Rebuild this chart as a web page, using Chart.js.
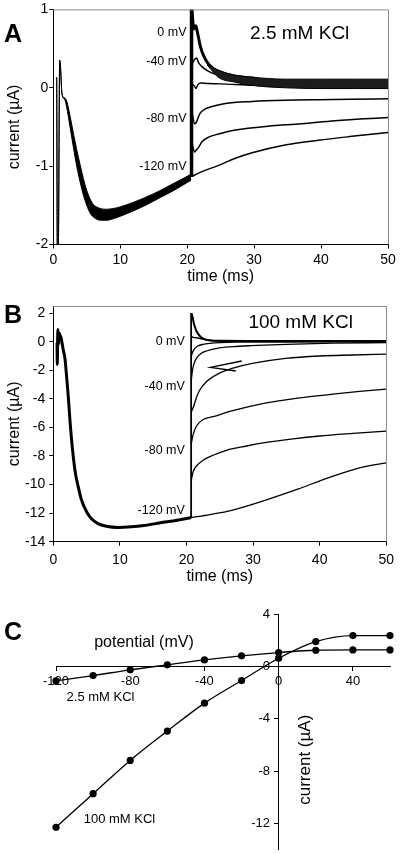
<!DOCTYPE html>
<html>
<head>
<meta charset="utf-8">
<script src="https://cdn.jsdelivr.net/npm/chart.js@4.4.0/dist/chart.umd.min.js"></script>
<style>
  body { margin: 0; background: #fff; width: 400px; height: 854px; overflow: hidden; font-family: "Liberation Sans", Arial, sans-serif; }
  .panel { position: absolute; left: 0; width: 400px; }
  #boxA { top: 0; height: 290px; }
  #boxB { top: 290px; height: 300px; }
  #boxC { top: 590px; height: 264px; }
  .letter { position: absolute; left: 4px; font-size: 25px; line-height: 25px; font-weight: bold; color: #000; }
</style>
</head>
<body>
<div class="panel" id="boxA"><canvas id="chartA"></canvas></div>
<div class="panel" id="boxB"><canvas id="chartB"></canvas></div>
<div class="panel" id="boxC"><canvas id="chartC"></canvas></div>
<div class="letter" style="top:21px">A</div>
<div class="letter" style="top:302px">B</div>
<div class="letter" style="top:619px">C</div>
<script>
// ---------- panel A: 2.5 mM KCl (time in ms, current in µA)
const timeTicks = [0, 10, 20, 30, 40, 50];
const currentTicksA = [-2, -1, 0, 1];

// prepulse, drawn as a band between an upper and a lower edge
const tPreA = [0.45, 0.5, 0.6, 0.75, 0.95, 1.05, 1.3, 1.7, 2.0, 2.5, 3.0, 3.5, 4.0, 4.5, 5.0, 5.5, 6.0, 7.0, 8.0, 9.0, 10, 12, 14, 16, 18, 20, 20.6];
const iPreAHigh = [0.12, 0.13, -2.05, -2.05, 0.35, 0.3, -0.08, -0.13, -0.17, -0.36, -0.58, -0.79, -0.98, -1.16, -1.31, -1.42, -1.49, -1.54, -1.55, -1.54, -1.52, -1.46, -1.39, -1.31, -1.22, -1.13, -1.1];
const iPreALow = [0.12, 0.13, -2.05, -2.05, 0.35, 0.3, -0.08, -0.15, -0.25, -0.5, -0.76, -1.0, -1.2, -1.37, -1.5, -1.6, -1.65, -1.69, -1.69, -1.67, -1.64, -1.57, -1.49, -1.4, -1.31, -1.21, -1.18];

// voltage step at ~20.6 ms
const tStepA = [20.65, 20.65];
const iStepA = [-1.14, 1.05];

// test pulses
const tA0 = [20.7, 21.0, 21.3, 21.5, 22.0, 22.5, 23.2, 24.0, 25.0, 27.0, 30.0];
const iA0 = [1.0, 0.75, 0.79, 0.72, 0.52, 0.4, 0.3, 0.24, 0.2, 0.15, 0.12];
const tA40 = [20.7, 21.1, 21.4, 21.7, 22.2, 23.2, 24.7, 27.0, 30.0];
const iA40 = [0.3, 0.36, 0.38, 0.32, 0.27, 0.21, 0.16, 0.12, 0.1];
const tA60 = [20.7, 21.1, 21.3, 21.6, 22.0, 23.0, 25.0, 30.0, 40.0, 50.0];
const iA60 = [0.05, 0.02, -0.01, 0.04, 0.06, 0.055, 0.05, 0.03, 0.02, 0.01];
const tA80 = [20.7, 21.1, 21.3, 21.9, 22.7, 23.7, 25.7, 29.7, 34.6, 39.6, 44.6, 50];
const iA80 = [-0.3, -0.46, -0.45, -0.33, -0.27, -0.24, -0.2, -0.175, -0.16, -0.153, -0.148, -0.14];
const tA100 = [20.7, 21.1, 21.3, 21.7, 22.2, 23.2, 24.7, 27.2, 32.1, 37.1, 42.1, 50];
const iA100 = [-0.7, -0.82, -0.8, -0.76, -0.69, -0.63, -0.59, -0.54, -0.49, -0.46, -0.42, -0.38];
const tA120 = [20.7, 22.2, 24.7, 27.2, 29.7, 34.6, 39.6, 44.6, 50];
const iA120 = [-1.13, -1.07, -0.99, -0.9, -0.83, -0.73, -0.67, -0.62, -0.57];

// noisy band of the depolarized traces near zero
const tBandA = [23.0, 24.0, 24.7, 27.2, 29.7, 34.6, 40, 45, 50];
const iBandAHigh = [0.3, 0.25, 0.22, 0.16, 0.135, 0.11, 0.11, 0.11, 0.11];
const iBandALow = [0.29, 0.19, 0.13, 0.07, 0.03, 0.0, -0.01, -0.01, -0.01];

// ---------- panel B: 100 mM KCl
const currentTicksB = [-14, -12, -10, -8, -6, -4, -2, 0, 2];

const tPreB = [0.45, 0.55, 0.6, 0.68, 0.78, 0.9, 1.0, 1.15, 1.5, 1.75, 2.0, 2.25, 2.5, 2.75, 3.25, 3.75, 4.25, 5.0, 5.7, 6.7, 8.0, 9.7, 11.7, 13.6, 16.1, 18.6, 20.7];
const iPreB = [0.0, 0.0, -1.6, 0.85, -0.2, 0.6, 0.45, 0.3, -0.58, -1.17, -2.45, -3.85, -5.49, -6.89, -9.0, -10.16, -11.1, -11.9, -12.38, -12.73, -12.92, -13.0, -12.96, -12.87, -12.68, -12.5, -12.31];

const tStepB = [20.7, 20.7];
const iStepB = [-12.31, 2.0];

const tBpos = [20.7, 20.85, 21.1, 21.5, 22.0, 22.6, 23.5, 25, 30, 40, 50];
const iBpos = [2.0, 1.87, 1.3, 0.75, 0.4, 0.2, 0.1, 0.06, 0.05, 0.05, 0.05];
const tB0 = [20.7, 21.0, 21.5, 22.2, 23, 24.5, 27, 35, 50];
const iB0 = [0.4, 0.3, 0.28, 0.2, 0.12, 0.06, 0.03, 0.02, 0.02];
const tB20 = [20.7, 20.9, 21.2, 21.7, 22.5, 23.5, 25, 28, 33, 40, 50];
const iB20 = [-1.07, -0.75, -0.5, -0.3, -0.18, -0.11, -0.06, -0.03, -0.02, -0.01, 0.0];
const tB40 = [20.7, 20.9, 21.2, 21.6, 22.0, 23.0, 24.6, 27, 29.6, 35, 42, 50];
const iB40 = [-2.8, -2.0, -1.45, -1.1, -0.89, -0.65, -0.46, -0.35, -0.28, -0.18, -0.1, -0.06];
const tB60 = [20.7, 21.1, 21.5, 22.0, 23.0, 24.9, 27, 29.9, 34.9, 40, 45, 50];
const iB60 = [-4.94, -4.5, -3.9, -3.38, -2.8, -2.22, -1.85, -1.52, -1.17, -1.0, -0.93, -0.87];
const tB80 = [20.7, 21.0, 21.5, 22.5, 24, 26.8, 31.8, 36.7, 41.7, 46, 50];
const iB80 = [-7.18, -6.5, -5.9, -5.45, -5.25, -4.85, -4.3, -3.95, -3.69, -3.48, -3.32];
const tB100 = [20.7, 21.0, 21.5, 22.5, 24, 26, 29, 32, 36, 40, 45, 50];
const iB100 = [-9.73, -9.1, -8.7, -8.3, -7.95, -7.6, -7.3, -7.05, -6.8, -6.6, -6.42, -6.26];
const tB120 = [20.7, 23.5, 26.8, 31.8, 36.7, 41.7, 46.6, 50];
const iB120 = [-12.31, -12.1, -11.8, -11.1, -10.32, -9.46, -8.76, -8.48];

// arrow pointing at a tail current
const tArrowB = [28.3, 23.6, 27.4];
const iArrowB = [-1.35, -1.8, -2.05];

// ---------- panel C: current–voltage relation
const potentials = [-120, -100, -80, -60, -40, -20, 0, 20, 40, 60];
const ivLowK = [-1.1, -0.69, -0.25, 0.13, 0.51, 0.82, 1.07, 1.25, 1.27, 1.27];
const ivHighK = [-12.3, -9.73, -7.18, -4.94, -2.8, -1.07, 0.64, 1.91, 2.37, 2.37];
const potentialTicks = [-120, -80, -40, 0, 40];
const currentTicksC = [-12, -8, -4, 0, 4];

const FONT = '"Liberation Sans", Arial, sans-serif';
Chart.defaults.font.family = FONT;
Chart.defaults.color = '#000';

// text written at data coordinates
const notesPlugin = {
    id: 'notes',
    afterDatasetsDraw(chart, args, opts) {
        const { ctx, scales } = chart;
        (opts.items || []).forEach(n => {
            ctx.save();
            ctx.font = n.size + 'px ' + FONT;
            ctx.fillStyle = '#000';
            ctx.textAlign = n.align || 'left';
            ctx.textBaseline = 'middle';
            ctx.translate(scales.x.getPixelForValue(n.x), scales.y.getPixelForValue(n.y));
            if (n.rotate) ctx.rotate(n.rotate);
            ctx.fillText(n.text, 0, 0);
            ctx.restore();
        });
    }
};

// grey top/right frame of the trace plots
const framePlugin = {
    id: 'frame',
    afterDraw(chart, args, opts) {
        if (!opts.show) return;
        const { ctx, chartArea: a } = chart;
        ctx.save();
        ctx.strokeStyle = '#8c8c8c';
        ctx.lineWidth = 1;
        ctx.beginPath();
        ctx.moveTo(a.left, a.top + 0.5);
        ctx.lineTo(Math.round(a.right) + 0.5, a.top + 0.5);
        ctx.lineTo(Math.round(a.right) + 0.5, a.bottom);
        ctx.stroke();
        ctx.restore();
    }
};
Chart.register(notesPlugin, framePlugin);

function trace(ts, vs, width, extra) {
    return Object.assign({
        data: ts.map((t, i) => ({ x: t, y: vs[i] })),
        borderColor: '#000',
        backgroundColor: '#000',
        borderWidth: width,
        pointRadius: 0,
        fill: false,
        cubicInterpolationMode: 'monotone'
    }, extra || {});
}

function straight(ts, vs, width) {
    return trace(ts, vs, width, { cubicInterpolationMode: 'default', tension: 0 });
}

function tickSetter(list) {
    return scale => { scale.ticks = list.map(v => ({ value: v })); };
}

function traceOptions(cfg) {
    return {
        responsive: true,
        maintainAspectRatio: false,
        animation: false,
        events: [],
        layout: { padding: { top: cfg.top, right: 12, left: 0, bottom: 0 } },
        plugins: {
            legend: { display: false },
            tooltip: { enabled: false },
            notes: { items: cfg.notes },
            frame: { show: true }
        },
        scales: {
            x: {
                type: 'linear',
                min: 0,
                max: 50,
                afterFit: s => { s.height = cfg.xHeight; },
                afterBuildTicks: tickSetter(timeTicks),
                grid: { drawOnChartArea: false, tickLength: 4, color: '#000' },
                border: { color: '#000' },
                ticks: { padding: cfg.xPad, font: { size: 14 }, color: '#000' },
                title: { display: true, text: 'time (ms)', color: '#000', font: { size: 16 }, padding: { top: 0, bottom: 3.4 } }
            },
            y: {
                type: 'linear',
                min: cfg.yMin,
                max: cfg.yMax,
                afterFit: s => { s.width = 53.3; },
                afterBuildTicks: tickSetter(cfg.yTicks),
                grid: { drawOnChartArea: false, tickLength: 4, color: '#000' },
                border: { color: '#000' },
                ticks: { padding: cfg.yPad, font: { size: 14 }, color: '#000' },
                title: { display: true, text: 'current (µA)', color: '#000', font: { size: 16 }, padding: { top: 5.4, bottom: 0 } }
            }
        }
    };
}

// Panel A
new Chart(document.getElementById('chartA'), {
    type: 'line',
    data: {
        datasets: [
            trace(tPreA, iPreAHigh, 1),
            trace(tPreA, iPreALow, 1, { fill: '-1' }),
            trace(tBandA, iBandAHigh, 1),
            trace(tBandA, iBandALow, 1, { fill: '-1', backgroundColor: '#1c1c1c' }),
            trace(tA0, iA0, 3),
            trace(tA40, iA40, 1.5),
            trace(tA60, iA60, 1.4),
            trace(tA80, iA80, 1.5),
            trace(tA100, iA100, 1.5),
            trace(tA120, iA120, 1.5),
            straight(tStepA, iStepA, 3.5)
        ]
    },
    options: traceOptions({
        top: 8.5, xHeight: 45.5, xPad: 3, yPad: 1,
        yMin: -2, yMax: 1, yTicks: currentTicksA,
        notes: [
            { x: 19.9, y: 0.7, text: '0 mV', size: 12.5, align: 'right' },
            { x: 19.9, y: 0.33, text: '-40 mV', size: 12.5, align: 'right' },
            { x: 19.9, y: -0.39, text: '-80 mV', size: 12.5, align: 'right' },
            { x: 19.9, y: -1.01, text: '-120 mV', size: 12.5, align: 'right' },
            { x: 29.4, y: 0.69, text: '2.5 mM KCl', size: 19, align: 'left' }
        ]
    })
});

// Panel B
new Chart(document.getElementById('chartB'), {
    type: 'line',
    data: {
        datasets: [
            trace(tPreB, iPreB, 3),
            trace(tBpos, iBpos, 2),
            trace(tB0, iB0, 1.4),
            trace(tB20, iB20, 1.3),
            trace(tB40, iB40, 1.3),
            trace(tB60, iB60, 1.3),
            trace(tB80, iB80, 1.3),
            trace(tB100, iB100, 1.3),
            trace(tB120, iB120, 1.3),
            straight(tStepB, iStepB, 1.8),
            straight(tArrowB, iArrowB, 1.3)
        ]
    },
    options: traceOptions({
        top: 16, xHeight: 48.3, xPad: 6, yPad: 4,
        yMin: -14, yMax: 2.5, yTicks: currentTicksB,
        notes: [
            { x: 19.75, y: 0, text: '0 mV', size: 12.5, align: 'right' },
            { x: 19.75, y: -3.15, text: '-40 mV', size: 12.5, align: 'right' },
            { x: 19.75, y: -7.6, text: '-80 mV', size: 12.5, align: 'right' },
            { x: 19.75, y: -11.8, text: '-120 mV', size: 12.5, align: 'right' },
            { x: 29.3, y: 1.31, text: '100 mM KCl', size: 19, align: 'left' }
        ]
    })
});

// Panel C
function ivSeries(values) {
    return {
        data: potentials.map((p, i) => ({ x: p, y: values[i] })),
        borderColor: '#000',
        borderWidth: 1.3,
        pointRadius: 3.6,
        pointBackgroundColor: '#000',
        pointBorderWidth: 0,
        fill: false,
        clip: 8,
        cubicInterpolationMode: 'monotone'
    };
}

// y tick labels of C sit a few pixels left of the crossing axis
const currentLabelsC = currentTicksC.map(v => ({ x: -4.7, y: v, text: String(v), size: 13, align: 'right' }));

new Chart(document.getElementById('chartC'), {
    type: 'line',
    data: { datasets: [ivSeries(ivLowK), ivSeries(ivHighK)] },
    options: {
        responsive: true,
        maintainAspectRatio: false,
        animation: false,
        events: [],
        layout: { padding: { top: 24.3, right: 10, left: 56, bottom: 4.5 } },
        plugins: {
            legend: { display: false },
            tooltip: { enabled: false },
            notes: {
                items: currentLabelsC.concat([
                    { x: -72.6, y: 1.81, text: 'potential (mV)', size: 16, align: 'center' },
                    { x: -96, y: -2.39, text: '2.5 mM KCl', size: 13, align: 'center' },
                    { x: -85.8, y: -11.7, text: '100 mM KCl', size: 13, align: 'center' },
                    { x: 14.2, y: -7.13, text: 'current (µA)', size: 17, align: 'center', rotate: -Math.PI / 2 }
                ])
            }
        },
        scales: {
            x: {
                type: 'linear',
                min: -120,
                max: 60,
                position: { y: 0 },
                afterBuildTicks: tickSetter(potentialTicks),
                grid: { drawOnChartArea: false, tickLength: 4, color: '#000' },
                border: { color: '#000' },
                ticks: { padding: 3, font: { size: 13 }, color: '#000' }
            },
            y: {
                type: 'linear',
                min: -14,
                max: 4,
                position: { x: 0 },
                afterBuildTicks: tickSetter(currentTicksC),
                grid: { drawOnChartArea: false, tickLength: 4, color: '#000' },
                border: { color: '#000' },
                ticks: { display: false }
            }
        }
    }
});
</script>
</body>
</html>
